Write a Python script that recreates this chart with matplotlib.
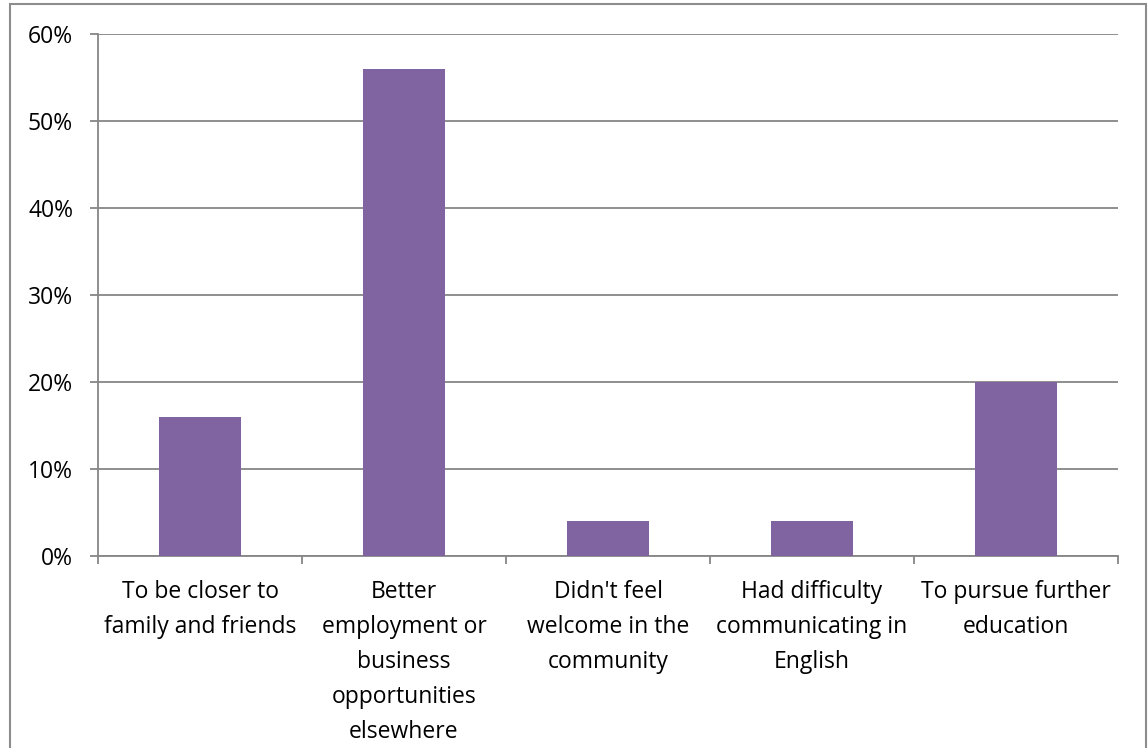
import matplotlib.pyplot as plt
from matplotlib.patches import Rectangle
from matplotlib.ticker import FuncFormatter, MultipleLocator

categories = [
    "To be closer to\nfamily and friends",
    "Better\nemployment or\nbusiness\nopportunities\nelsewhere",
    "Didn't feel\nwelcome in the\ncommunity",
    "Had difficulty\ncommunicating in\nEnglish",
    "To pursue further\neducation",
]
shares = [16, 56, 4, 4, 20]

W, H = 1148, 748
plt.rcParams["font.family"] = ["Open Sans", "DejaVu Sans"]

fig = plt.figure(figsize=(W / 100, H / 100), dpi=100)
ax = fig.add_axes([98 / W, (H - 556) / H, (1118 - 98) / W, (556 - 34) / H])

# outer chart frame (runs off the bottom of the picture)
fig.patches.append(Rectangle((10 / W, -0.1), (1146 - 10) / W, 1.1 - 4 / H,
                             transform=fig.transFigure, fill=False,
                             edgecolor="#8c8c8c", linewidth=1.5))

x = range(len(categories))
ax.bar(x, shares, width=0.4, color="#8064A2", zorder=3)

ax.set_xlim(-0.5, len(categories) - 0.5)
ax.set_ylim(0, 60)
ax.yaxis.set_major_locator(MultipleLocator(10))
ax.yaxis.set_major_formatter(FuncFormatter(lambda v, _: f"{v:.0f}%"))
ax.grid(axis="y", color="#868686", linewidth=1.3, zorder=0)

ax.set_xticks(list(x))
ax.set_xticklabels(categories, linespacing=1.62, fontsize=16.5)
ax.set_xticks([i - 0.5 for i in range(len(categories) + 1)], minor=True)
ax.tick_params(axis="x", which="major", length=0, pad=17)
ax.tick_params(axis="x", which="minor", length=6, width=1.3, color="#868686")
ax.tick_params(axis="y", length=6, width=1.3, color="#868686", labelsize=16.5, pad=12)

for side in ("top", "right"):
    ax.spines[side].set_visible(False)
for side in ("left", "bottom"):
    ax.spines[side].set_color("#868686")
    ax.spines[side].set_linewidth(1.3)

fig.savefig("out.png", dpi=100)
